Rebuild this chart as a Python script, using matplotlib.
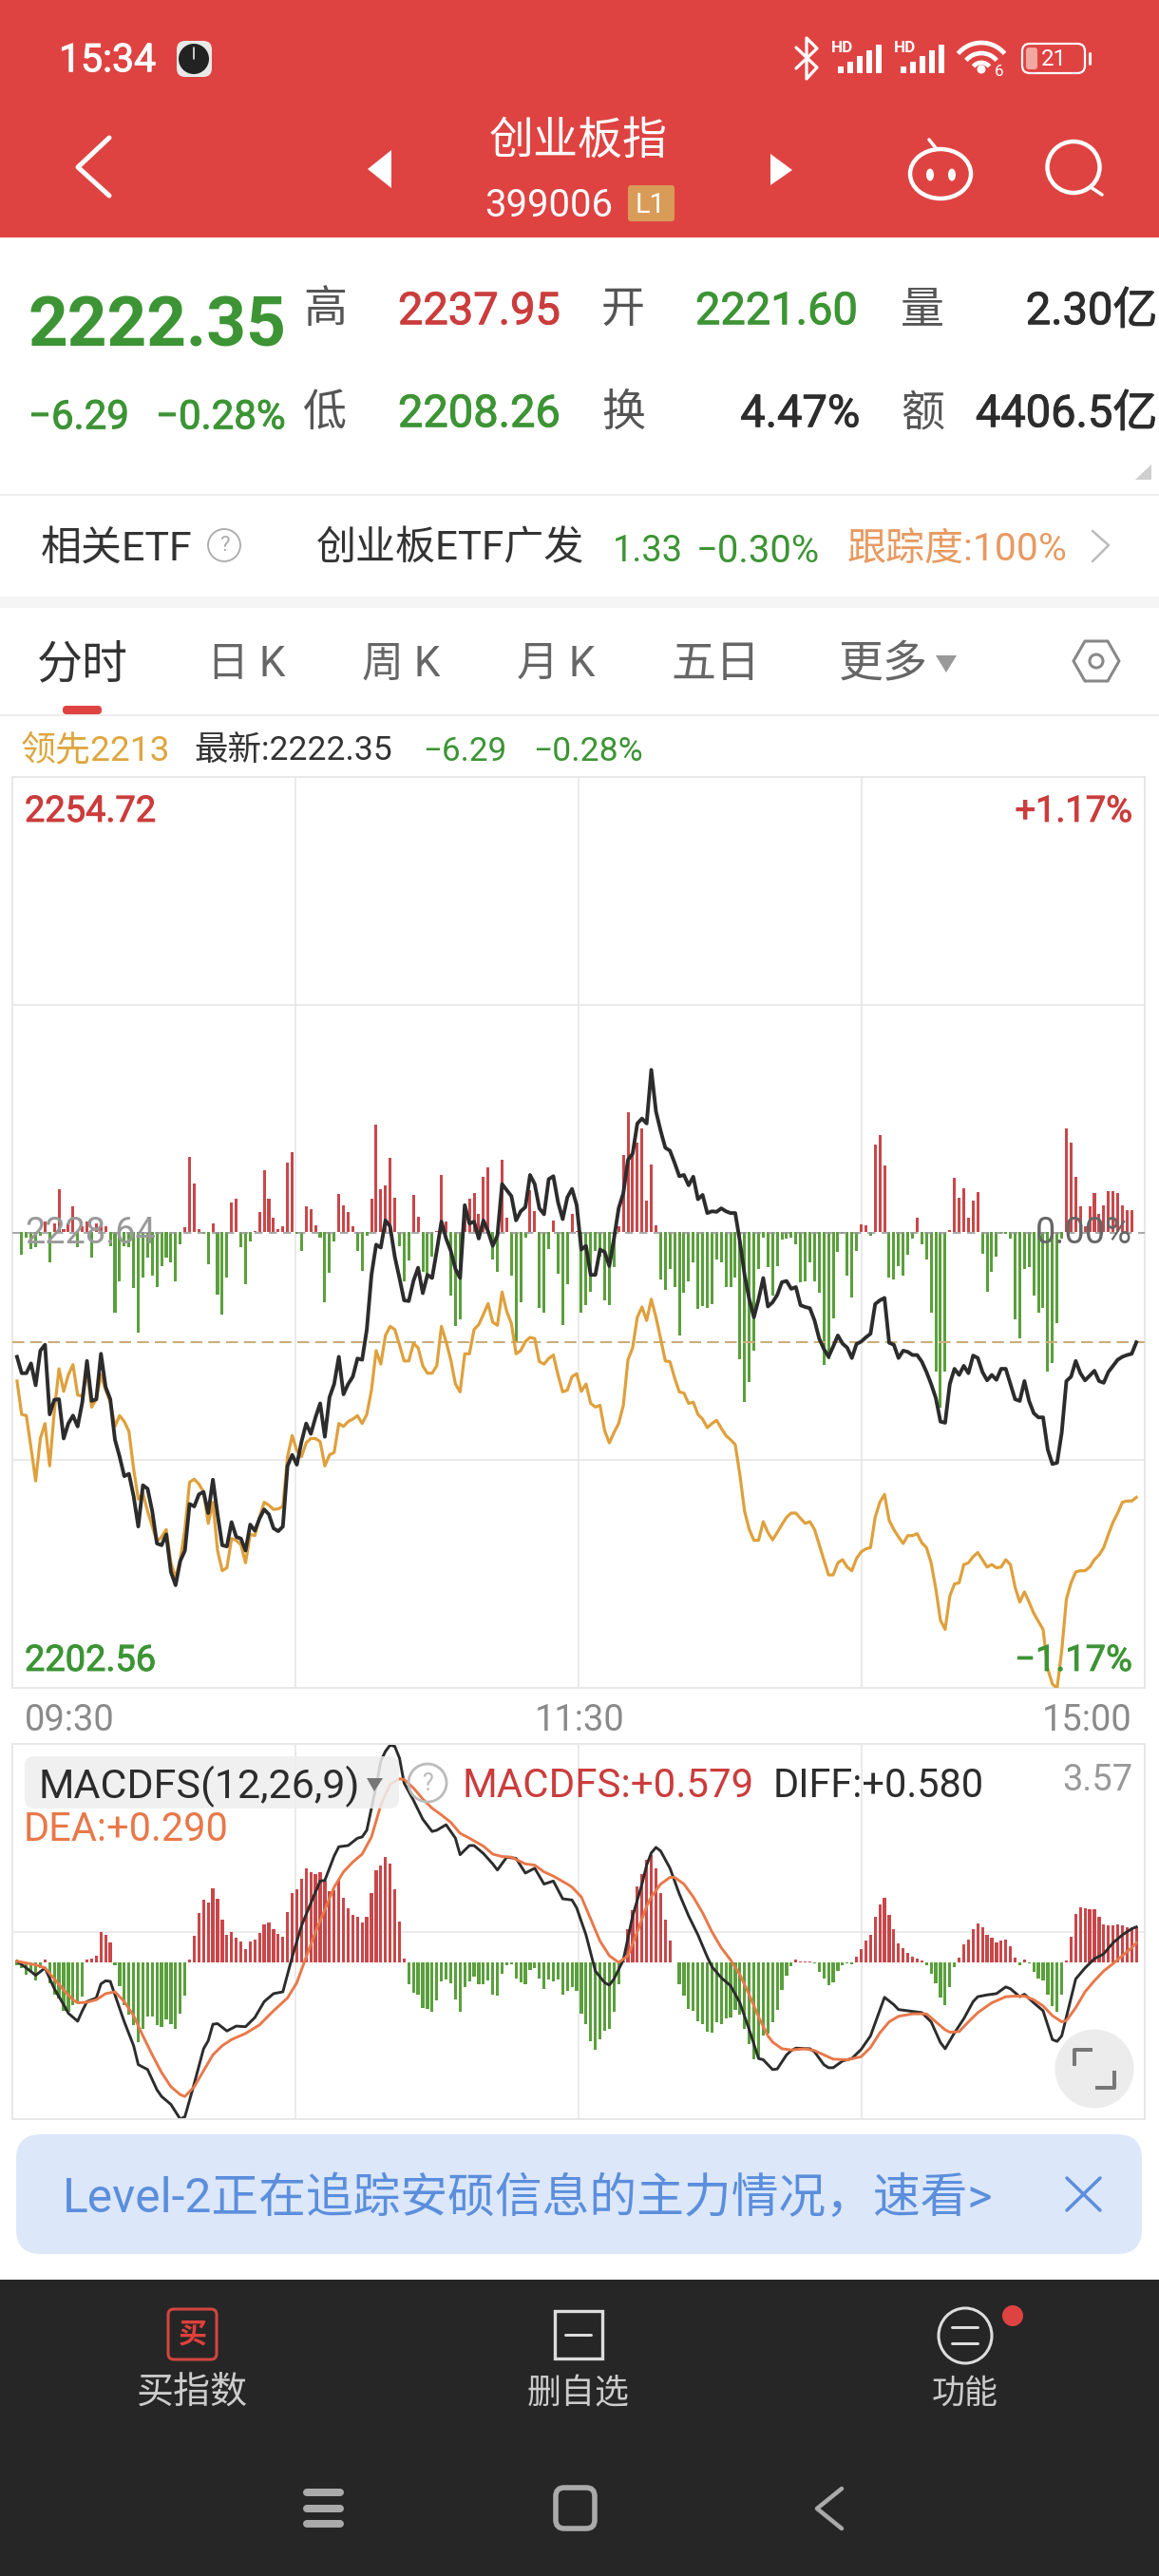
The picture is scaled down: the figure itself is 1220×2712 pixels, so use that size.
import numpy as np
import matplotlib
matplotlib.use('Agg')
import matplotlib.pyplot as plt
import matplotlib.patheffects as pe
from matplotlib.patches import FancyBboxPatch, Rectangle, Circle, Ellipse, Polygon, Arc

plt.rcParams['font.family'] = ['Roboto', 'Noto Sans CJK SC', 'DejaVu Sans']

# index values, one per minute
price = [2221.52,2220.58,2220.58,2221.14,2219.89,2221.87,2222.21,2218.22,2219.06,2219.09,2216.84,2217.70,2218.15,2217.53,2218.92,2221.28,2218.99,2219.09,2221.69,2219.79,
2219.09,2216.77,2215.80,2214.68,2214.82,2213.54,2211.80,2214.16,2213.96,2212.67,2210.83,2210.73,2211.35,2209.20,2208.44,2209.83,2210.42,2213.09,2212.95,2213.64,
2213.78,2212.57,2214.48,2212.50,2210.73,2210.66,2212.05,2211.21,2211.11,2210.42,2211.91,2211.56,2212.26,2212.78,2212.50,2211.70,2211.53,2211.80,2215.27,2215.90,
2215.34,2216.66,2217.70,2217.11,2218.05,2218.85,2216.94,2219.20,2219.96,2221.52,2219.37,2219.96,2220.38,2221.42,2221.35,2223.08,2226.21,2227.94,2227.77,2229.33,
2228.98,2227.25,2226.03,2224.75,2224.71,2225.86,2226.62,2225.16,2226.21,2226.03,2227.59,2229.26,2228.29,2227.59,2226.55,2226.03,2230.20,2229.15,2229.26,2228.29,
2229.33,2228.70,2227.87,2228.46,2231.41,2231.06,2230.72,2229.33,2229.85,2230.09,2231.93,2231.41,2230.02,2229.68,2231.69,2231.86,2230.37,2229.40,2230.65,
2231.13,2230.20,2227.66,2227.87,2226.21,2226.21,2227.66,2227.52,2226.72,2228.29,2230.02,2230.89,2232.80,2233.15,2234.88,2235.16,2234.88,2237.95,2235.57,
2234.46,2233.49,2233.32,2232.62,2231.86,2231.93,2231.34,2231.83,2230.54,2230.79,2229.75,2229.85,2229.82,2230.02,2229.85,2229.75,2229.75,2228.11,2226.21,2224.82,
2223.78,2224.82,2226.03,2224.40,2224.64,2225.06,2225.79,2225.86,2225.41,2225.51,2224.47,2224.37,2224.30,2223.60,2222.56,2221.97,2221.52,2222.11,2222.74,2222.28,
2222.04,2221.45,2222.25,2222.39,2222.63,2222.84,2224.54,2224.75,2224.89,2222.32,2222.21,2221.45,2221.87,2221.80,2221.62,2221.62,2221.24,2220.65,2219.96,2219.16,
2217.81,2217.74,2219.96,2220.83,2220.48,2221.00,2220.58,2221.59,2221.45,2220.65,2220.17,2220.48,2220.20,2220.83,2220.83,2219.96,2219.09,2218.99,2220.13,2218.99,
2218.29,2218.05,2218.05,2216.21,2215.38,2215.45,2217.18,2220.13,2220.38,2221.28,2220.58,2220.17,2220.44,2220.72,2220.13,2220.03,2220.65,2221.00,2221.35,2221.52,
2221.62,2221.69,2222.35]

# leading index (gold line)
lead = [2220.13,2218.22,2218.15,2216.32,2214.41,2216.84,2217.70,2215.27,2218.40,2220.83,2219.54,2220.48,2221.07,2219.33,2219.27,2220.65,2218.64,2219.09,2220.48,2219.61,
2218.92,2217.53,2218.15,2217.81,2217.25,2215.10,2213.37,2213.71,2212.67,2211.80,2210.94,2211.21,2211.63,2209.72,2208.86,2209.90,2211.63,2214.34,2214.51,2214.23,
2213.78,2211.98,2213.19,2210.42,2209.27,2209.44,2211.11,2211.01,2210.76,2209.72,2211.35,2211.28,2212.33,2213.19,2213.02,2212.78,2212.81,2212.95,2215.80,2217.01,
2216.14,2215.80,2216.59,2216.84,2216.84,2216.66,2215.27,2215.90,2216.04,2217.70,2217.53,2217.81,2217.95,2218.15,2217.70,2218.22,2219.61,2221.87,2221.10,2222.74,
2223.26,2223.08,2222.21,2221.28,2221.28,2222.28,2222.04,2221.00,2220.58,2220.58,2221.00,2223.26,2222.39,2221.35,2219.96,2219.51,2221.69,2221.69,2223.08,2223.36,
2223.95,2224.57,2223.50,2223.32,2225.23,2224.12,2223.43,2221.69,2221.87,2222.39,2222.63,2222.56,2221.24,2221.10,2221.42,2221.62,2220.48,2219.51,2219.61,2220.38,
2220.55,2219.54,2219.96,2218.85,2218.64,2218.74,2217.29,2216.59,2217.18,2217.70,2218.74,2221.35,2222.04,2223.78,2224.37,2223.60,2224.82,2223.78,2222.56,2221.28,
2221.24,2220.31,2219.51,2219.44,2218.85,2218.92,2218.22,2217.95,2217.46,2217.70,2217.88,2217.43,2217.01,2216.77,2216.49,2214.75,2212.67,2211.63,2211.01,2211.01,
2212.08,2211.46,2211.04,2211.46,2211.91,2212.33,2212.57,2212.57,2212.26,2211.98,2212.08,2211.63,2210.76,2209.90,2209.03,2209.03,2209.72,2209.90,2209.48,2209.27,
2209.97,2210.35,2210.52,2210.59,2212.33,2213.19,2213.64,2212.15,2211.63,2211.21,2210.83,2211.28,2211.28,2211.39,2210.87,2210.59,2209.72,2208.23,2206.43,2205.91,
2207.81,2208.51,2208.58,2209.62,2209.72,2210.07,2210.31,2209.90,2209.48,2209.62,2209.44,2209.48,2209.90,2209.62,2208.33,2207.47,2208.06,2207.47,2206.84,2206.36,
2205.91,2203.65,2202.78,2202.54,2204.69,2207.64,2208.58,2209.20,2209.27,2209.27,2209.48,2209.90,2210.17,2210.59,2211.35,2212.05,2212.57,2213.19,2213.26,2213.26,
2213.47]

# net volume bars, relative units, sign picks the colour
volume = [0,-37,-8,-28,-25,-5,18,-50,15,72,5,15,43,-25,10,18,-42,15,12,10,
-22,-132,-80,-22,-25,-92,-165,-75,-42,-72,-90,-55,-42,-50,-80,-20,8,125,80,5,
-3,-52,15,-103,-135,-75,50,55,-25,-85,-15,2,33,103,55,25,5,10,115,132,
-2,-30,43,38,12,-8,-115,-66,-15,63,44,33,10,-30,-63,-5,55,178,72,78,
123,57,-22,-80,-47,62,26,-65,-75,-40,2,95,18,-105,-155,-143,45,55,65,30,
92,108,-45,-65,120,25,-72,-180,-115,-8,70,35,-125,-132,-28,20,-68,-153,-85,30,
2,-132,-120,-98,-30,-40,-112,-120,-58,10,128,198,130,148,172,52,112,12,-77,-95,
-60,-90,-170,-100,-80,-50,-127,-122,-125,-118,-45,-50,-90,-90,-75,-210,-280,-247,-195,-60,
-8,-57,-105,-55,-12,-10,-8,-20,-82,-80,-50,-80,-100,-218,-210,-142,-32,-2,-72,-108,
-30,13,12,-5,145,160,110,-75,-78,-55,-72,-37,-10,25,-20,-45,-132,-230,-290,-230,
4,90,57,73,25,52,66,-35,-98,-65,-40,-3,-2,-10,-143,-175,-60,-58,-105,-132,
-125,-230,-215,-150,-10,172,148,92,43,10,43,65,30,45,68,68,65,45,37,37]

macd_hist = [-.05,-.10,-.20,-.16,-.30,-.10,.04,-.34,-.52,-.59,-.79,-.80,-.70,-.67,-.56,.05,.06,.11,.49,.45,
.33,-.05,-.39,-.70,-.85,-1.02,-1.30,-1.09,-.89,-.88,-1.03,-1.06,-.93,-1.01,-1.08,-.84,-.54,.04,.44,.80,
1.03,.98,1.21,1.04,.70,.45,.50,.41,.34,.22,.34,.37,.48,.62,.65,.55,.47,.42,.83,1.14,
1.20,1.37,1.54,1.47,1.45,1.47,1.34,1.16,1.18,1.35,1.06,.89,.77,.74,.65,.74,1.14,1.51,1.58,1.73,
1.62,1.20,.67,.07,-.36,-.50,-.53,-.75,-.76,-.81,-.62,-.31,-.28,-.34,-.60,-.81,-.41,-.31,-.23,-.35,
-.35,-.30,-.53,-.54,-.18,-.04,-.03,-.26,-.32,-.35,-.13,-.09,-.27,-.44,-.28,-.31,-.28,-.53,-.47,-.41,
-.47,-.84,-1.01,-1.29,-1.43,-1.25,-1.11,-1.08,-.81,-.36,.01,.54,.85,1.24,1.45,1.68,1.76,1.53,1.14,.70,
.35,0,-.35,-.54,-.76,-.79,-.96,-1.01,-1.14,-1.15,-.98,-1.01,-.92,-.90,-.78,-.85,-1.09,-1.33,-1.58,-1.55,
-1.20,-1.16,-.98,-.77,-.45,-.21,-.06,.05,.02,.02,.02,-.02,-.16,-.26,-.37,-.32,-.14,-.04,-.02,-.03,
.09,.22,.35,.45,.74,.95,1.06,.78,.55,.31,.23,.16,.10,.07,.03,-.04,-.18,-.34,-.58,-.69,
-.41,-.08,.08,.30,.37,.54,.63,.57,.45,.40,.32,.35,.37,.26,.08,-.04,.04,-.02,-.16,-.27,
-.29,-.52,-.72,-.80,-.52,.03,.42,.79,.90,.88,.87,.87,.75,.62,.61,.61,.62,.61,.58,.54,.58]

diff_min = [0,2,4,6,8,10,11,13,14,15,17,18,19,20,21,23,25,26,28,30,31,33,35,36,38,40,41,42,43,45,47,49,51,53,55,57,59,61,63,65,66,68,69,71,73,74,75,77,78,79,80,81,82,83,85,87,89,90,92,94,95,97,98,100,102,103,105,107,109,111,113,115,117,119,120,122,124,126,127,128,130,132,134,135,136,137,138,140,142,144,146,148,149,151,153,155,157,159,160,162,163,165,166,167,170,171,173,174,175,177,179,181,183,186,188,189,191,194,196,198,199,201,203,205,206,208,210,212,213,215,216,218,220,222,223,224,226,227,229,231,233,235,237,239,240]
diff_val = [.02,-.09,-.21,-.09,-.43,-.69,-.83,-.96,-.79,-.64,-.58,-.35,-.30,-.31,-.53,-.97,-1.36,-1.67,-1.75,-2.08,-2.19,-2.32,-2.56,-2.52,-1.98,-1.41,-1.28,-1.01,-1.00,-1.12,-1.04,-1.05,-.90,-.64,-.51,-.48,.09,.60,.97,1.33,1.34,1.74,1.89,1.91,2.03,2.05,2.16,2.88,3.29,3.45,3.55,3.53,3.34,2.93,2.65,2.34,2.14,2.16,2.25,2.03,1.76,1.91,1.91,1.78,1.61,1.51,1.72,1.70,1.46,1.54,1.28,1.33,1.04,1.02,.89,.45,-.14,-.33,-.37,-.27,.04,.76,1.28,1.59,1.79,1.88,1.82,1.54,1.12,.76,.45,.09,-.07,-.25,-.38,-.66,-1.10,-1.57,-1.59,-1.75,-1.74,-1.51,-1.44,-1.40,-1.41,-1.46,-1.67,-1.72,-1.72,-1.61,-1.57,-1.42,-1.20,-.57,-.69,-.77,-.79,-.82,-.97,-1.31,-1.41,-1.15,-.92,-.64,-.56,-.53,-.51,-.40,-.43,-.56,-.52,-.66,-.79,-1.26,-1.29,-1.20,-.58,-.27,-.09,.06,.14,.32,.45,.55,.58]

dea_min = [0,4,6,8,10,12,13,15,17,19,21,23,25,27,29,31,33,35,36,38,40,42,44,46,49,52,55,58,60,62,64,66,68,70,72,74,76,78,80,82,83,85,87,89,91,93,95,97,100,102,104,106,109,111,113,115,118,119,121,123,125,127,129,131,133,135,136,138,140,141,143,145,147,149,151,153,155,157,159,161,162,164,166,169,171,173,175,178,181,183,185,187,189,192,195,197,199,200,202,204,206,209,212,214,216,218,220,222,224,225,227,229,231,233,235,237,239,240]
dea_val = [.02,-.04,-.09,-.27,-.45,-.61,-.66,-.65,-.61,-.51,-.48,-.64,-.87,-1.20,-1.51,-1.80,-2.03,-2.16,-2.19,-2.03,-1.77,-1.51,-1.36,-1.26,-1.16,-1.02,-.79,-.58,-.33,.09,.50,.86,1.23,1.48,1.64,1.77,2.05,2.57,2.91,3.00,2.99,2.85,2.67,2.52,2.41,2.29,2.11,2.03,1.90,1.77,1.73,1.72,1.61,1.59,1.48,1.41,1.28,1.23,1.07,.71,.35,.11,0,.11,.50,.92,1.07,1.28,1.39,1.39,1.28,1.07,.81,.50,.24,.04,-.20,-.53,-.89,-1.20,-1.30,-1.41,-1.43,-1.41,-1.44,-1.51,-1.58,-1.59,-1.54,-1.39,-1.15,-.97,-.88,-.84,-.84,-.97,-1.10,-1.14,-1.13,-.97,-.82,-.66,-.56,-.55,-.55,-.61,-.71,-.87,-.97,-.95,-.74,-.48,-.30,-.14,-.02,.11,.24,.32]

prev_close = 2228.64
last_price = 2222.35
y_high = 2254.72
y_low = 2202.56
macd_top = 3.57
macd_bottom = -2.56
time_labels = ['09:30', '11:30', '15:00']

RED = '#c9474a'
GREEN = '#5a9f3c'
TXT_RED = '#cb3c3c'
TXT_GREEN = '#3c9434'
DARK = '#2c2c2c'
GOLD = '#dfa03c'
ORANGE = '#e8784a'
GRID = '#e4e4e4'
W, H = 1220, 2712

fig = plt.figure(figsize=(W / 100, H / 100), dpi=100, facecolor='white')


def add_ax(left, top, right, bottom, z):
    a = fig.add_axes([left / W, 1 - bottom / H, (right - left) / W, (bottom - top) / H], zorder=z)
    a.patch.set_alpha(0)
    a.set_xticks([])
    a.set_yticks([])
    return a


def style_panel(a):
    for s in a.spines.values():
        s.set_color('#e8e8e8')
        s.set_linewidth(1.4)


xlim = (-1.0, 241.8)
vgrid = np.linspace(xlim[0], xlim[1], 5)[1:-1]

# main chart: volume goes in its own axes beneath the lines
ax_vol = add_ax(13, 818, 1205, 1777, 1)
ax_vol.bar(np.arange(len(volume)), volume, width=0.62, color=[RED if v > 0 else GREEN for v in volume])
ax_vol.set_xlim(xlim)
ax_vol.set_ylim(-752, 752)
style_panel(ax_vol)
for x in vgrid:
    ax_vol.axvline(x, color=GRID, lw=1.1, zorder=0)
for y in (-376, 376):
    ax_vol.axhline(y, color=GRID, lw=1.1, zorder=0)

ax = add_ax(13, 818, 1205, 1777, 2)
ax.axhline(prev_close, color='#999999', lw=1.2, dashes=(5, 4))
ax.axhline(last_price, color='#c9ae7a', lw=1.5, dashes=(6, 3))
ax.plot(np.arange(len(lead)), lead, color=GOLD, lw=2.3, solid_joinstyle='round')
ax.plot(np.arange(len(price)), price, color=DARK, lw=2.8, solid_joinstyle='round')
ax.set_xlim(xlim)
ax.set_ylim(y_low, y_high)
ax.axis('off')

# MACD panel
ax_m = add_ax(13, 1836, 1205, 2231, 2)
ax_m.bar(np.arange(len(macd_hist)), macd_hist, width=0.66, color=[RED if v > 0 else GREEN for v in macd_hist])
for x in vgrid:
    ax_m.axvline(x, color=GRID, lw=1.1, zorder=0)
ax_m.axhline((macd_top + macd_bottom) / 2, color=GRID, lw=1.1, zorder=0)
ax_m.plot(diff_min, diff_val, color=DARK, lw=2.1, solid_joinstyle='round')
ax_m.plot(dea_min, dea_val, color=ORANGE, lw=2.1, solid_joinstyle='round')
ax_m.set_xlim(xlim)
ax_m.set_ylim(macd_bottom, macd_top)
style_panel(ax_m)

# everything around the charts, in screen pixels
ui = fig.add_axes([0, 0, 1, 1], zorder=5)
ui.set_xlim(0, W)
ui.set_ylim(H, 0)
ui.axis('off')
ui.patch.set_alpha(0)


def t(x, y, s, px, color=DARK, ha='left', weight='normal'):
    # va center sits a bit high with the CJK fallback in the list
    txt = ui.text(x, y + 0.09 * px, s, fontsize=px * 0.72, color=color, ha=ha, va='center',
                  weight='bold' if weight == 'bold' else 'normal')
    if weight == 'medium':
        txt.set_path_effects([pe.withStroke(linewidth=0.7, foreground=color)])


def seg(xs, ys, color, px=3, cap='round'):
    ui.plot(xs, ys, color=color, lw=px * 0.72, solid_capstyle=cap, solid_joinstyle='round')


def box(x0, y0, x1, y1, r, fc='none', ec='none', lw=0, alpha=None, z=1):
    ui.add_patch(FancyBboxPatch((x0 + r, y0 + r), x1 - x0 - 2 * r, y1 - y0 - 2 * r,
                                boxstyle='round,pad=%f,rounding_size=%f' % (r, r),
                                fc=fc, ec=ec, lw=lw, alpha=alpha, zorder=z))


# header
ui.add_patch(Rectangle((0, 0), W, 250, fc='#de4342', ec='none'))
t(62, 60, '15:34', 41, '#ffffff', weight='medium')
box(186, 43, 223, 81, 9, fc='#e8e8e8')
ui.add_patch(Circle((204, 62), 16, fc='#222222'))
seg([204, 204], [62, 50], '#ffffff', 1.5)
# bluetooth
seg([838, 860, 849, 849, 860, 838], [50, 71, 83, 40, 51, 72], '#ffffff', 3.2)
for x0 in (879, 945):
    t(x0 - 4, 49, 'HD', 17, '#ffffff', weight='bold')
    for k, h in enumerate((7, 12, 18, 24, 30)):
        ui.add_patch(Rectangle((x0 + 3 + k * 10, 77 - h), 6, h, fc='#ffffff', ec='none'))
# wifi
for r in (11, 21, 32):
    ui.add_patch(Arc((1033, 77), 2 * r, 2 * r, theta1=220, theta2=320, color='#ffffff', lw=3.4))
ui.add_patch(Circle((1033, 73), 4.5, fc='#ffffff'))
t(1052, 74, '6', 17, '#ffffff', ha='center')
box(1076, 46, 1142, 77, 8, ec='#ffffff', lw=1.6)
box(1080, 50, 1092, 73, 3, fc='#f0a8a0')
t(1109, 60, '21', 24, '#ffffff', ha='center')
seg([1147, 1147], [56, 67], '#ffffff', 3)

seg([115, 82, 115], [145, 176, 206], '#ffffff', 5)
ui.add_patch(Polygon([(387, 178), (412, 158), (412, 198)], fc='#ffffff', ec='none'))
ui.add_patch(Polygon([(811, 162), (834, 179), (811, 195)], fc='#ffffff', ec='none'))
t(609, 145, '创业板指', 47, '#ffffff', ha='center')
t(578, 213, '399006', 40, '#ffffff', ha='center')
box(661, 195, 710, 233, 3, fc='#d99b58')
t(685, 213, 'L1', 29, '#ffffff', ha='center')
# robot and search
ui.add_patch(Ellipse((990, 183), 64, 52, fc='none', ec='#ffffff', lw=3.2))
ui.add_patch(Ellipse((979, 184), 8, 13, fc='#ffffff'))
ui.add_patch(Ellipse((1002, 184), 8, 13, fc='#ffffff'))
seg([978, 986], [147, 157], '#ffffff', 3.5)
ui.add_patch(Ellipse((1130, 176), 55, 54, fc='none', ec='#ffffff', lw=3.2))
seg([1148, 1160], [197, 205], '#ffffff', 3.5)

# quote block
t(30, 338, '2222.35', 73, TXT_GREEN, weight='bold')
t(342, 322, '高', 46, '#555555', ha='center')
t(419, 324, '2237.95', 47, TXT_RED, weight='medium')
t(656, 322, '开', 46, '#555555', ha='center')
t(732, 324, '2221.60', 47, TXT_GREEN, weight='medium')
t(971, 322, '量', 46, '#555555', ha='center')
t(1218, 324, '2.30亿', 47, DARK, ha='right', weight='medium')
t(30, 436, '−6.29', 42, TXT_GREEN, weight='medium')
t(164, 436, '−0.28%', 42, TXT_GREEN, weight='medium')
t(342, 431, '低', 46, '#555555', ha='center')
t(419, 432, '2208.26', 47, TXT_GREEN, weight='medium')
t(656, 431, '换', 46, '#555555', ha='center')
t(905, 432, '4.47%', 47, DARK, ha='right', weight='medium')
t(971, 431, '额', 46, '#555555', ha='center')
t(1218, 432, '4406.5亿', 47, DARK, ha='right', weight='medium')
ui.add_patch(Polygon([(1195, 505), (1212, 505), (1212, 489)], fc='#cfcfcf', ec='none'))
seg([0, W], [521, 521], '#e8e8e8', 1.5)

# ETF row
t(43, 574, '相关ETF', 43, '#333333')
ui.add_patch(Circle((236, 574), 17, fc='none', ec='#aaaaaa', lw=1.3))
t(236, 573, '?', 22, '#aaaaaa', ha='center')
t(333, 574, '创业板ETF广发', 42, '#333333')
t(645, 577, '1.33', 38, TXT_GREEN)
t(733, 577, '−0.30%', 40, TXT_GREEN)
t(892, 575, '跟踪度:100%', 41, '#e89a62')
seg([1150, 1167, 1150], [559, 574, 591], '#bbbbbb', 2.5)
ui.add_patch(Rectangle((0, 628), W, 12, fc='#f5f5f5', ec='none'))

# tabs
t(87, 696, '分时', 48, '#333333', ha='center')
t(259, 696, '日 K', 44, '#666666', ha='center')
t(422, 696, '周 K', 44, '#666666', ha='center')
t(585, 696, '月 K', 44, '#666666', ha='center')
t(753, 696, '五日', 47, '#666666', ha='center')
t(930, 696, '更多', 47, '#666666', ha='center')
ui.add_patch(Polygon([(985, 690), (1007, 690), (996, 708)], fc='#999999', ec='none'))
ui.add_patch(Polygon([(1130, 696), (1142, 675), (1166, 675), (1178, 696), (1166, 717), (1142, 717)],
                     fc='none', ec='#888888', lw=2.2, joinstyle='round'))
ui.add_patch(Circle((1154, 696), 7, fc='none', ec='#888888', lw=2.2))
box(66, 743, 107, 752, 4, fc='#de4342')
seg([0, W], [753, 753], '#e8e8e8', 1.5)

t(22, 787, '领先2213', 37, '#dda63f')
t(204, 787, '最新:2222.35', 35.5, '#333333')
t(445, 788, '−6.29', 35, TXT_GREEN)
t(561, 788, '−0.28%', 35.5, TXT_GREEN)

# chart labels
t(26, 851, '2254.72', 38, TXT_RED, weight='medium')
t(1192, 851, '+1.17%', 38, TXT_RED, ha='right', weight='medium')
t(26, 1745, '2202.56', 38, TXT_GREEN, weight='medium')
t(1192, 1745, '−1.17%', 38, TXT_GREEN, ha='right', weight='medium')
t(26, 1295, '2228.64', 38, '#999999')
t(1192, 1295, '0.00%', 38, '#666666', ha='right')
t(26, 1808, time_labels[0], 38, '#8a8a8a')
t(610, 1808, time_labels[1], 38, '#8a8a8a', ha='center')
t(1192, 1808, time_labels[2], 38, '#8a8a8a', ha='right')

box(26, 1849, 420, 1904, 10, fc='#eeeeee', alpha=0.85)
t(40, 1877, 'MACDFS(12,26,9)', 43, DARK)
ui.add_patch(Polygon([(386, 1872), (403, 1872), (394, 1886)], fc='#777777', ec='none'))
ui.add_patch(Circle((450, 1877), 20, fc='none', ec='#bbbbbb', lw=2))
t(450, 1876, '?', 25, '#bbbbbb', ha='center')
t(487, 1877, 'MACDFS:+0.579', 42, TXT_RED)
t(814, 1877, 'DIFF:+0.580', 41.5, DARK)
t(1192, 1871, '3.57', 38, '#999999', ha='right')
t(25, 1923, 'DEA:+0.290', 41.5, ORANGE)
ui.add_patch(Ellipse((1152, 2178), 83, 83, fc='#ececec', ec='none'))
seg([1131, 1131, 1150], [2175, 2158, 2158], '#777777', 4, cap='butt')
seg([1153, 1173, 1173], [2198, 2198, 2180], '#777777', 4, cap='butt')

# banner
box(17, 2247, 1202, 2373, 26, fc='#dce7fa')
t(66, 2310, 'Level-2正在追踪安硕信息的主力情况，速看>', 49.8, '#5b8edc')
seg([1123, 1158], [2293, 2327], '#5b8edc', 3.5)
seg([1123, 1158], [2327, 2293], '#5b8edc', 3.5)

# footer
ui.add_patch(Rectangle((0, 2400), W, 312, fc='#262626', ec='none'))
box(177, 2431, 228, 2484, 6, ec='#d2453f', lw=2.2)
t(203, 2456, '买', 30, '#e0403c', ha='center', weight='bold')
t(202, 2516, '买指数', 39, '#cccccc', ha='center')
ui.add_patch(Rectangle((584, 2433), 50, 50, fc='none', ec='#dddddd', lw=2.4))
seg([595, 622], [2458, 2458], '#dddddd', 3)
t(609, 2517, '删自选', 36, '#cccccc', ha='center')
ui.add_patch(Ellipse((1016, 2459), 56, 58, fc='none', ec='#dddddd', lw=2.2))
seg([1002, 1029], [2450, 2450], '#dddddd', 3)
seg([1002, 1029], [2467, 2467], '#dddddd', 3)
ui.add_patch(Circle((1066, 2438), 11, fc='#de4342'))
t(1016, 2517, '功能', 35, '#cccccc', ha='center')

for y in (2624, 2641, 2657):
    seg([323, 358], [y, y], '#aaaaaa', 8)
box(585, 2619, 626, 2662, 9, ec='#aaaaaa', lw=4)
seg([886, 860, 886], [2620, 2641, 2662], '#aaaaaa', 4.5)

fig.savefig('out.png', dpi=100, facecolor='white')
